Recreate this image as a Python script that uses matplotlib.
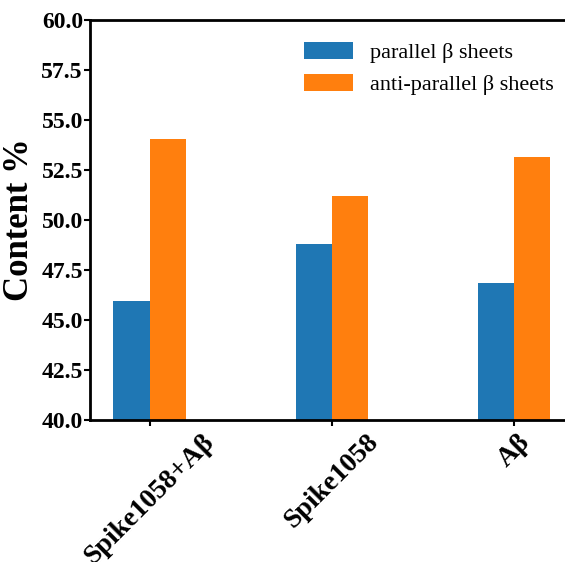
import numpy as np
import matplotlib
matplotlib.use("Agg")
import matplotlib.pyplot as plt

categories = ["Spike1058+Aβ", "Spike1058", "Aβ"]
parallel = [45.95, 48.8, 46.85]
anti_parallel = [54.05, 51.2, 53.15]

plt.rcParams["font.family"] = ["Liberation Serif", "DejaVu Serif"]

fig = plt.figure(figsize=(5.65, 5.62), dpi=100)
ax = fig.add_axes([0.159, 0.253, 0.857, 0.712])

x = np.arange(len(categories))
w = 0.2
ax.bar(x - w / 2, parallel, w, color="#1f77b4", label="parallel β sheets")
ax.bar(x + w / 2, anti_parallel, w, color="#ff7f0e", label="anti-parallel β sheets")

ax.set_ylim(40, 60)
ax.set_yticks(np.arange(40, 60.1, 2.5))
ax.set_yticklabels([f"{v:.1f}" for v in np.arange(40, 60.1, 2.5)],
                   fontsize=17, fontweight="bold")
ax.set_xlim(-0.33, 2.33)
ax.set_xticks(x)
ax.set_xticklabels(categories, rotation=45, ha="center",
                   fontsize=20, fontweight="bold")
ax.set_ylabel("Content %", fontsize=25, fontweight="bold", labelpad=4)

for s in ax.spines.values():
    s.set_linewidth(2)
ax.tick_params(width=1.5, length=4, pad=1)
ax.tick_params(axis="x", pad=3)

ax.legend(frameon=False, fontsize=16, loc="upper right",
          bbox_to_anchor=(1.0, 0.995), handlelength=2.2, handleheight=0.8)

plt.savefig("out.png", dpi=100)
plt.close()
